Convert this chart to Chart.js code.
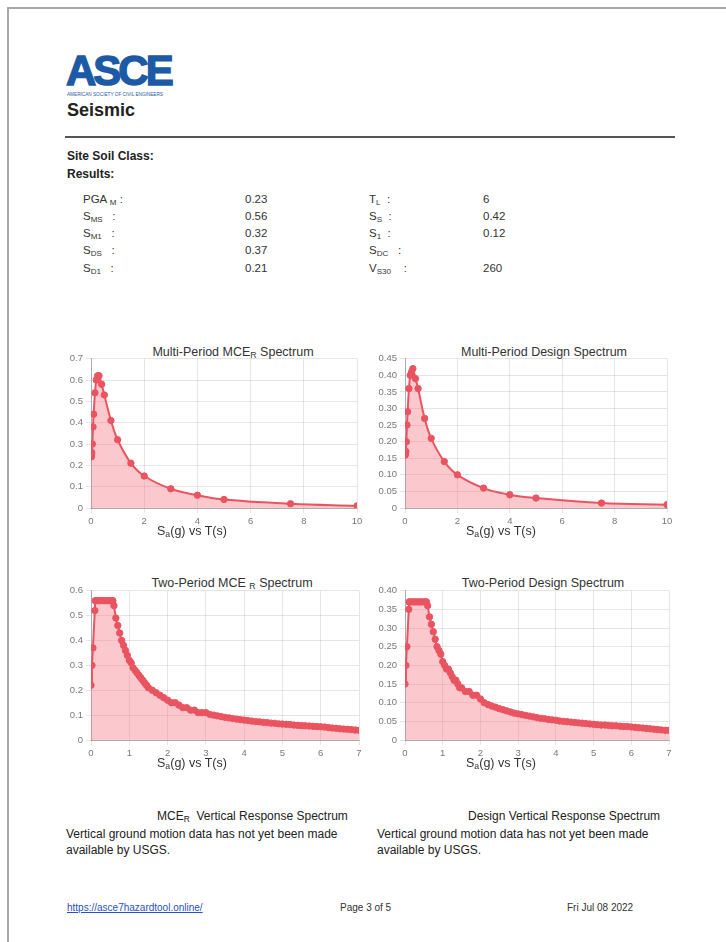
<!DOCTYPE html>
<html>
<head>
<meta charset="utf-8">
<script src="https://cdn.jsdelivr.net/npm/chart.js"></script>
<style>
  body { margin: 0; background: #fff; font-family: "Liberation Sans", Arial, sans-serif; color: #222; }
  #page { position: relative; width: 726px; height: 942px; overflow: hidden; }
  .abs { position: absolute; white-space: nowrap; }
  .border-top { position: absolute; left: 7px; top: 7px; width: 719px; height: 1.5px; background: #a8a8a8; }
  .border-left { position: absolute; left: 7px; top: 7px; width: 1.5px; height: 935px; background: #a8a8a8; }
  .logo { left: 66px; top: 48px; font-size: 42px; font-weight: bold; color: #1c5aa6; letter-spacing: -3px; line-height: 46px; -webkit-text-stroke: 1.4px #1c5aa6; }
  .logo-sub { left: 67px; top: 91px; font-size: 6px; color: #1c5aa6; line-height: 7px; transform-origin: left top; transform: scaleX(0.78); }
  .h1 { left: 67px; top: 99px; font-size: 18px; font-weight: bold; line-height: 22px; color: #222; }
  .rule { position: absolute; left: 65px; top: 136px; width: 610px; height: 1.5px; background: #555; }
  .bold { font-size: 12px; font-weight: bold; line-height: 14px; color: #222; }
  .cell { font-size: 11.5px; line-height: 14px; color: #333; }
  .cell sub, .ttl sub, .axt sub, .txt sub { font-size: 0.7em; vertical-align: -0.25em; line-height: 0; }
  .ttl { font-size: 12.5px; line-height: 14px; color: #333; transform: translateX(-50%); }
  .axt { font-size: 12.5px; line-height: 14px; color: #333; }
  .txt { font-size: 12px; line-height: 16px; color: #222; }
  .foot { font-size: 10px; line-height: 12px; color: #333; }
  .foot a { color: #2a4fbf; text-decoration: underline; }
  canvas { position: absolute; }
</style>
</head>
<body>
<div id="page">
  <div class="border-top"></div>
  <div class="border-left"></div>

  <div class="abs logo">ASCE</div>
  <div class="abs logo-sub">AMERICAN SOCIETY OF CIVIL ENGINEERS</div>
  <div class="abs h1">Seismic</div>
  <div class="rule"></div>

  <div class="abs bold" style="left:67px; top:149px;">Site Soil Class:</div>
  <div class="abs bold" style="left:67px; top:167px;">Results:</div>

  <div class="abs cell" style="left:83px; top:192px;">PGA <sub>M</sub> :</div>
  <div class="abs cell" style="left:245px; top:192px;">0.23</div>
  <div class="abs cell" style="left:369px; top:192px;">T<sub>L</sub> &nbsp;:</div>
  <div class="abs cell" style="left:483px; top:192px;">6</div>

  <div class="abs cell" style="left:83px; top:209px;">S<sub>MS</sub> &nbsp;&nbsp;:</div>
  <div class="abs cell" style="left:245px; top:209px;">0.56</div>
  <div class="abs cell" style="left:369px; top:209px;">S<sub>S</sub> &nbsp;:</div>
  <div class="abs cell" style="left:483px; top:209px;">0.42</div>

  <div class="abs cell" style="left:83px; top:226px;">S<sub>M1</sub> &nbsp;&nbsp;:</div>
  <div class="abs cell" style="left:245px; top:226px;">0.32</div>
  <div class="abs cell" style="left:369px; top:226px;">S<sub>1</sub> &nbsp;:</div>
  <div class="abs cell" style="left:483px; top:226px;">0.12</div>

  <div class="abs cell" style="left:83px; top:243px;">S<sub>DS</sub> &nbsp;&nbsp;:</div>
  <div class="abs cell" style="left:245px; top:243px;">0.37</div>
  <div class="abs cell" style="left:369px; top:243px;">S<sub>DC</sub> &nbsp;&nbsp;:</div>

  <div class="abs cell" style="left:83px; top:261px;">S<sub>D1</sub> &nbsp;&nbsp;:</div>
  <div class="abs cell" style="left:245px; top:261px;">0.21</div>
  <div class="abs cell" style="left:369px; top:261px;">V<sub>S30</sub> &nbsp;&nbsp;&nbsp;:</div>
  <div class="abs cell" style="left:483px; top:261px;">260</div>

  <div class="abs ttl" style="left:233px; top:345px;">Multi-Period MCE<sub>R</sub> Spectrum</div>
  <div class="abs ttl" style="left:544px; top:345px;">Multi-Period Design Spectrum</div>
  <canvas id="c1" width="312" height="180" style="left:55px; top:350px;"></canvas>
  <canvas id="c2" width="312" height="180" style="left:365px; top:350px;"></canvas>
  <div class="abs axt" style="left:157px; top:524px;">S<sub>a</sub>(g) vs T(s)</div>
  <div class="abs axt" style="left:466px; top:524px;">S<sub>a</sub>(g) vs T(s)</div>

  <div class="abs ttl" style="left:232px; top:576px;">Two-Period MCE <sub>R</sub> Spectrum</div>
  <div class="abs ttl" style="left:543px; top:576px;">Two-Period Design Spectrum</div>
  <canvas id="c3" width="314" height="180" style="left:55px; top:582px;"></canvas>
  <canvas id="c4" width="314" height="180" style="left:365px; top:582px;"></canvas>
  <div class="abs axt" style="left:157px; top:756px;">S<sub>a</sub>(g) vs T(s)</div>
  <div class="abs axt" style="left:466px; top:756px;">S<sub>a</sub>(g) vs T(s)</div>

  <div class="abs txt" style="left:157px; top:808px;">MCE<sub>R</sub>&nbsp; Vertical Response Spectrum</div>
  <div class="abs txt" style="left:468px; top:808px;">Design Vertical Response Spectrum</div>
  <div class="abs txt" style="left:66px; top:826px;">Vertical ground motion data has not yet been made<br>available by USGS.</div>
  <div class="abs txt" style="left:377px; top:826px;">Vertical ground motion data has not yet been made<br>available by USGS.</div>

  <div class="abs foot" style="left:67px; top:902px;"><a href="https://asce7hazardtool.online/">https://asce7hazardtool.online/</a></div>
  <div class="abs foot" style="left:340px; top:902px;">Page 3 of 5</div>
  <div class="abs foot" style="left:567px; top:902px;">Fri Jul 08 2022</div>
</div>

<script>
// multi-period spectra (T in s, Sa in g)
let multiT = [0, 0.01, 0.02, 0.03, 0.05, 0.075, 0.1, 0.15, 0.2, 0.25, 0.3, 0.4, 0.5, 0.75, 1, 1.5, 2, 3, 4, 5, 7.5, 10];
let multiMce = [0.24, 0.24, 0.25, 0.26, 0.30, 0.38, 0.44, 0.54, 0.60, 0.62, 0.62, 0.58, 0.53, 0.41, 0.32, 0.21, 0.15, 0.09, 0.06, 0.04, 0.02, 0.01];
let multiDesign = [0.16, 0.16, 0.17, 0.17, 0.20, 0.25, 0.29, 0.36, 0.40, 0.41, 0.42, 0.39, 0.36, 0.27, 0.21, 0.14, 0.10, 0.06, 0.04, 0.03, 0.015, 0.01];

// two-period spectra
let twoT = [0, 0.025, 0.05, 0.1, 0.11, 0.15, 0.2, 0.25, 0.3, 0.35, 0.4, 0.45, 0.5, 0.55, 0.57,
  0.6, 0.65, 0.7, 0.75, 0.8, 0.85, 0.9, 0.95, 1, 1.05, 1.1, 1.15, 1.2, 1.25, 1.3, 1.35, 1.4, 1.45, 1.5,
  1.6, 1.7, 1.8, 1.9, 2, 2.1, 2.2, 2.3, 2.4, 2.5, 2.6, 2.7, 2.8, 2.9, 3,
  3.1, 3.2, 3.3, 3.4, 3.5, 3.6, 3.7, 3.8, 3.9, 4, 4.1, 4.2, 4.3, 4.4, 4.5, 4.6, 4.7, 4.8, 4.9, 5,
  5.1, 5.2, 5.3, 5.4, 5.5, 5.6, 5.7, 5.8, 5.9, 6, 6.1, 6.2, 6.3, 6.4, 6.5, 6.6, 6.7, 6.8, 6.9, 7];
let twoMce = [0.22, 0.30, 0.37, 0.52, 0.56, 0.56, 0.56, 0.56, 0.56, 0.56, 0.56, 0.56, 0.56, 0.56, 0.56,
  0.54, 0.49, 0.46, 0.43, 0.40, 0.38, 0.36, 0.34, 0.32, 0.31, 0.29, 0.28, 0.27, 0.26, 0.25, 0.24, 0.23, 0.22, 0.21,
  0.20, 0.19, 0.18, 0.17, 0.16, 0.15, 0.15, 0.14, 0.13, 0.13, 0.12, 0.12, 0.11, 0.11, 0.11,
  0.103, 0.100, 0.097, 0.094, 0.091, 0.089, 0.086, 0.084, 0.082, 0.080, 0.078, 0.076, 0.074, 0.073, 0.071, 0.070, 0.068, 0.067, 0.065, 0.064,
  0.063, 0.062, 0.060, 0.059, 0.058, 0.057, 0.056, 0.055, 0.054, 0.053, 0.052, 0.050, 0.048, 0.047, 0.045, 0.044, 0.043, 0.042, 0.040, 0.039];
let twoDesign = [0.15, 0.20, 0.25, 0.35, 0.37, 0.37, 0.37, 0.37, 0.37, 0.37, 0.37, 0.37, 0.37, 0.37, 0.37,
  0.36, 0.33, 0.31, 0.29, 0.27, 0.25, 0.24, 0.23, 0.21, 0.20, 0.19, 0.19, 0.18, 0.17, 0.16, 0.16, 0.15, 0.14, 0.14,
  0.13, 0.13, 0.12, 0.12, 0.11, 0.10, 0.095, 0.091, 0.088, 0.084, 0.081, 0.078, 0.075, 0.072, 0.070,
  0.068, 0.066, 0.064, 0.062, 0.060, 0.058, 0.057, 0.055, 0.054, 0.053, 0.051, 0.050, 0.049, 0.048, 0.047, 0.046, 0.045, 0.044, 0.043, 0.042,
  0.041, 0.040, 0.040, 0.039, 0.038, 0.038, 0.037, 0.036, 0.036, 0.035, 0.034, 0.033, 0.032, 0.031, 0.030, 0.029, 0.028, 0.027, 0.026, 0.026];

let lineColor = 'rgb(233, 84, 96)';
let fillColor = 'rgba(242, 125, 137, 0.42)';

Chart.defaults.font.family = '"Liberation Sans", Arial, sans-serif';
Chart.defaults.animation = false;

function drawSpectrum(id, xs, ys, xMax, xStep, yMax, yStep, yWidth, tension) {
  let ctx = document.getElementById(id).getContext('2d');
  let points = xs.map((x, i) => ({ x: x, y: ys[i] }));
  return new Chart(ctx, {
    type: 'line',
    data: {
      datasets: [{
        data: points,
        borderColor: lineColor,
        backgroundColor: fillColor,
        pointBackgroundColor: lineColor,
        pointBorderColor: lineColor,
        pointRadius: 3.2,
        pointBorderWidth: 1,
        borderWidth: 2,
        tension: tension,
        fill: 'origin'
      }]
    },
    options: {
      responsive: false,
      layout: { padding: { top: 8, right: 10, bottom: 0, left: 0 } },
      plugins: { legend: { display: false }, tooltip: { enabled: false } },
      scales: {
        x: {
          type: 'linear',
          min: 0,
          max: xMax,
          ticks: { stepSize: xStep, color: '#777', font: { size: 9.5 }, padding: 3, maxRotation: 0 },
          grid: { color: 'rgba(0,0,0,0.1)', tickLength: 5 },
          border: { color: 'rgba(0,0,0,0.25)' },
          afterFit: s => { s.height = 22; }
        },
        y: {
          min: 0,
          max: yMax,
          ticks: { stepSize: yStep, color: '#777', font: { size: 9.5 }, padding: 3 },
          grid: { color: 'rgba(0,0,0,0.1)', tickLength: 5 },
          border: { color: 'rgba(0,0,0,0.25)' },
          afterFit: s => { s.width = yWidth; }
        }
      }
    }
  });
}

drawSpectrum('c1', multiT, multiMce, 10, 2, 0.7, 0.1, 36, 0.4);
drawSpectrum('c2', multiT, multiDesign, 10, 2, 0.45, 0.05, 40, 0.4);
drawSpectrum('c3', twoT, twoMce, 7, 1, 0.6, 0.1, 36, 0);
drawSpectrum('c4', twoT, twoDesign, 7, 1, 0.4, 0.05, 40, 0);
</script>
</body>
</html>
